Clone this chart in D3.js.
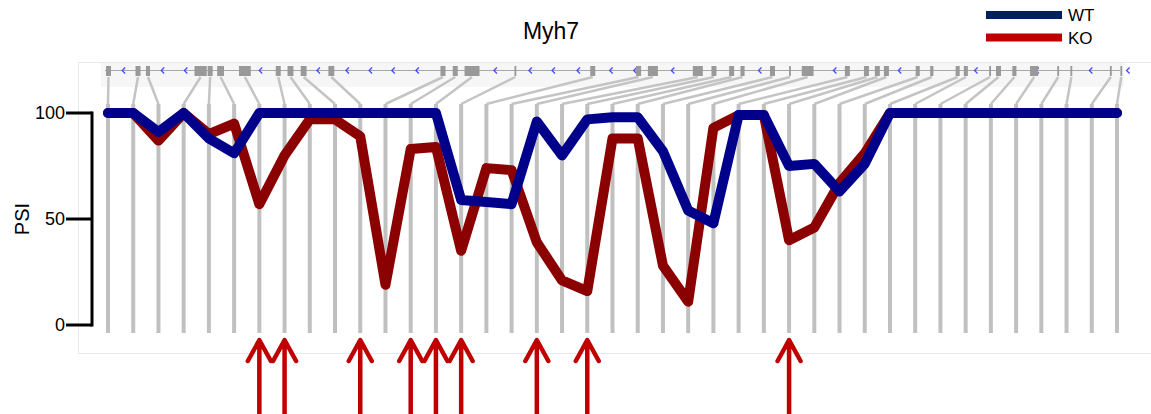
<!DOCTYPE html>
<html>
<head>
<meta charset="utf-8">
<script src="https://cdn.jsdelivr.net/npm/d3@7"></script>
<style>
  html, body { margin: 0; padding: 0; background: #ffffff; }
  svg { display: block; font-family: Arial, "Liberation Sans", sans-serif; }
</style>
</head>
<body>
<svg id="chart" width="1151" height="414"></svg>
<script>
// Exon numbers along the transcript (one PSI measurement per exon)
const exonIndex = d3.range(1, 42);

// Percent spliced in, per exon
const wtPSI = [100, 100, 91, 100, 88, 81, 100, 100, 100, 100,
               100, 100, 100, 100, 59, 58, 57, 96, 80, 97,
               98, 98, 82, 54, 48, 99, 99, 75, 76, 63,
               76, 100, 100, 100, 100, 100, 100, 100, 100, 100, 100];
const koPSI = [100, 100, 87, 100, 90, 95, 57, 80, 97, 97,
               89, 19, 83, 84, 35, 74, 73, 39, 21, 16,
               88, 88, 28, 11, 93, 99, 99, 40, 46, 67,
               81, 100, 100, 100, 100, 100, 100, 100, 100, 100, 100];

// Exons flagged as differentially spliced
const flaggedExons = [7, 8, 11, 13, 14, 15, 18, 20, 28];

// Gene model: exon start / end along the locus (bp from gene start)
const exonStart = [110, 760, 990, 2060, 2350, 2560, 3040, 3850, 4110, 4400,
                   5010, 7480, 7750, 8010, 9110, 10780, 11790, 12050, 13040, 13450,
                   13840, 14090, 14740, 15160, 15440, 16390, 16810, 17050, 17250, 17950,
                   18270, 18830, 19010, 19570, 19720, 20080, 20470, 21070, 21360, 22230, 22460];
const exonEnd   = [220, 870, 1080, 2330, 2460, 2710, 3300, 3960, 4240, 4530,
                   5140, 7590, 7860, 8340, 9150, 10890, 11900, 12270, 13260, 13560,
                   13950, 14180, 14850, 15200, 15700, 16500, 16920, 17160, 17360, 18040,
                   18340, 18920, 19100, 19610, 19830, 20170, 20650, 21110, 21400, 22270, 22500];
// Strand direction markers (minus strand)
const strandMarks = [500, 1360, 1870, 3520, 4790, 5430, 5940, 6440, 6970, 8690,
                     9460, 9970, 10520, 11240, 11770, 12600, 14520, 16170, 17600, 19280,
                     20630, 21810, 22630];
const geneLength = 22540;

const seriesNames = ["WT", "KO"];
const yTicks = [0, 50, 100];

const svg = d3.select("#chart");

// Panel frame
svg.append("rect")
  .attr("x", 78.5).attr("y", 62.5).attr("width", 1080).attr("height", 291)
  .attr("fill", "none").attr("stroke", "#e8e8e8").attr("stroke-width", 1);

// Scales
const x = d3.scaleLinear().domain([1, 41]).range([108, 1117]);
const y = d3.scaleLinear().domain([0, 100]).range([325, 113]);
const gx = d3.scaleLinear().domain([0, geneLength]).range([101, 1124]);

// Gene model band
svg.append("rect")
  .attr("x", gx(0)).attr("y", 63).attr("width", gx(geneLength) - gx(0)).attr("height", 24)
  .attr("fill", "#f6f6f6");
svg.append("line")
  .attr("x1", gx(0) + 4).attr("x2", gx(geneLength) - 4)
  .attr("y1", 70.5).attr("y2", 70.5)
  .attr("stroke", "#a8a8a8").attr("stroke-width", 1);

svg.append("g").selectAll("path")
  .data(strandMarks)
  .join("path")
  .attr("d", d => `M${gx(d) + 1.5},67.5 L${gx(d) - 1.5},70.5 L${gx(d) + 1.5},73.5`)
  .attr("fill", "none").attr("stroke", "#4a4aff").attr("stroke-width", 1.3);

svg.append("g").selectAll("rect")
  .data(exonIndex)
  .join("rect")
  .attr("x", (d, i) => gx(exonStart[i]))
  .attr("width", (d, i) => Math.max(1.5, gx(exonEnd[i]) - gx(exonStart[i])))
  .attr("y", 66).attr("height", 10)
  .attr("fill", "#999999");

// Connectors from gene model exons to measurement columns
const barTop = 104, barBottom = 333;
svg.append("g").selectAll("line")
  .data(exonIndex)
  .join("line")
  .attr("x1", (d, i) => gx((exonStart[i] + exonEnd[i]) / 2))
  .attr("y1", 77)
  .attr("x2", d => x(d))
  .attr("y2", barTop)
  .attr("stroke", "#c4c4c4").attr("stroke-width", 2.5);

svg.append("g").selectAll("line")
  .data(exonIndex)
  .join("line")
  .attr("x1", d => x(d)).attr("x2", d => x(d))
  .attr("y1", barTop).attr("y2", barBottom)
  .attr("stroke", "#c0c0c0").attr("stroke-width", 4);

// Y axis
const axis = svg.append("g");
axis.append("line")
  .attr("x1", 92).attr("x2", 92).attr("y1", y(100) - 1.5).attr("y2", y(0) + 1.5)
  .attr("stroke", "#000").attr("stroke-width", 3);
axis.selectAll("line.tick")
  .data(yTicks)
  .join("line")
  .attr("class", "tick")
  .attr("x1", 66).attr("x2", 92)
  .attr("y1", d => y(d)).attr("y2", d => y(d))
  .attr("stroke", "#000").attr("stroke-width", 3);
axis.selectAll("text")
  .data(yTicks)
  .join("text")
  .attr("x", 65).attr("y", d => y(d))
  .attr("dy", "0.35em")
  .attr("text-anchor", "end")
  .attr("font-size", 18)
  .attr("fill", "#000")
  .text(d => d);

svg.append("text")
  .attr("transform", `translate(29,${y(50)}) rotate(-90)`)
  .attr("text-anchor", "middle")
  .attr("font-size", 20)
  .attr("fill", "#000")
  .text("PSI");

// PSI lines
const line = d3.line()
  .x(d => x(d[0]))
  .y(d => y(d[1]));

const lineColors = { WT: "#00008b", KO: "#8b0000" };
const seriesData = { WT: wtPSI, KO: koPSI };

["KO", "WT"].forEach(name => {
  svg.append("path")
    .datum(exonIndex.map((e, i) => [e, seriesData[name][i]]))
    .attr("d", line)
    .attr("fill", "none")
    .attr("stroke", lineColors[name])
    .attr("stroke-width", 10)
    .attr("stroke-linejoin", "round")
    .attr("stroke-linecap", "round");
});

// Arrows beneath flagged exons
const arrows = svg.append("g")
  .attr("stroke", "#c00000").attr("stroke-width", 4.5)
  .attr("stroke-linecap", "round").attr("stroke-linejoin", "round")
  .attr("fill", "none");
arrows.selectAll("path")
  .data(flaggedExons)
  .join("path")
  .attr("d", d => {
    const cx = x(d);
    return `M${cx},342 L${cx},420 M${cx - 11.5},361 L${cx},340 L${cx + 11.5},361`;
  });

// Title
svg.append("text")
  .attr("x", 551).attr("y", 39)
  .attr("text-anchor", "middle")
  .attr("font-size", 23)
  .attr("fill", "#000")
  .text("Myh7");

// Legend
const legendColors = { WT: "#002060", KO: "#c00000" };
const legend = svg.append("g");
legend.selectAll("line")
  .data(seriesNames)
  .join("line")
  .attr("x1", 986).attr("x2", 1062)
  .attr("y1", (d, i) => 15 + i * 22.5).attr("y2", (d, i) => 15 + i * 22.5)
  .attr("stroke", d => legendColors[d]).attr("stroke-width", 8);
legend.selectAll("text")
  .data(seriesNames)
  .join("text")
  .attr("x", 1068).attr("y", (d, i) => 15 + i * 22.5)
  .attr("dy", "0.36em")
  .attr("font-size", 17)
  .attr("fill", "#000")
  .text(d => d);
</script>
</body>
</html>
